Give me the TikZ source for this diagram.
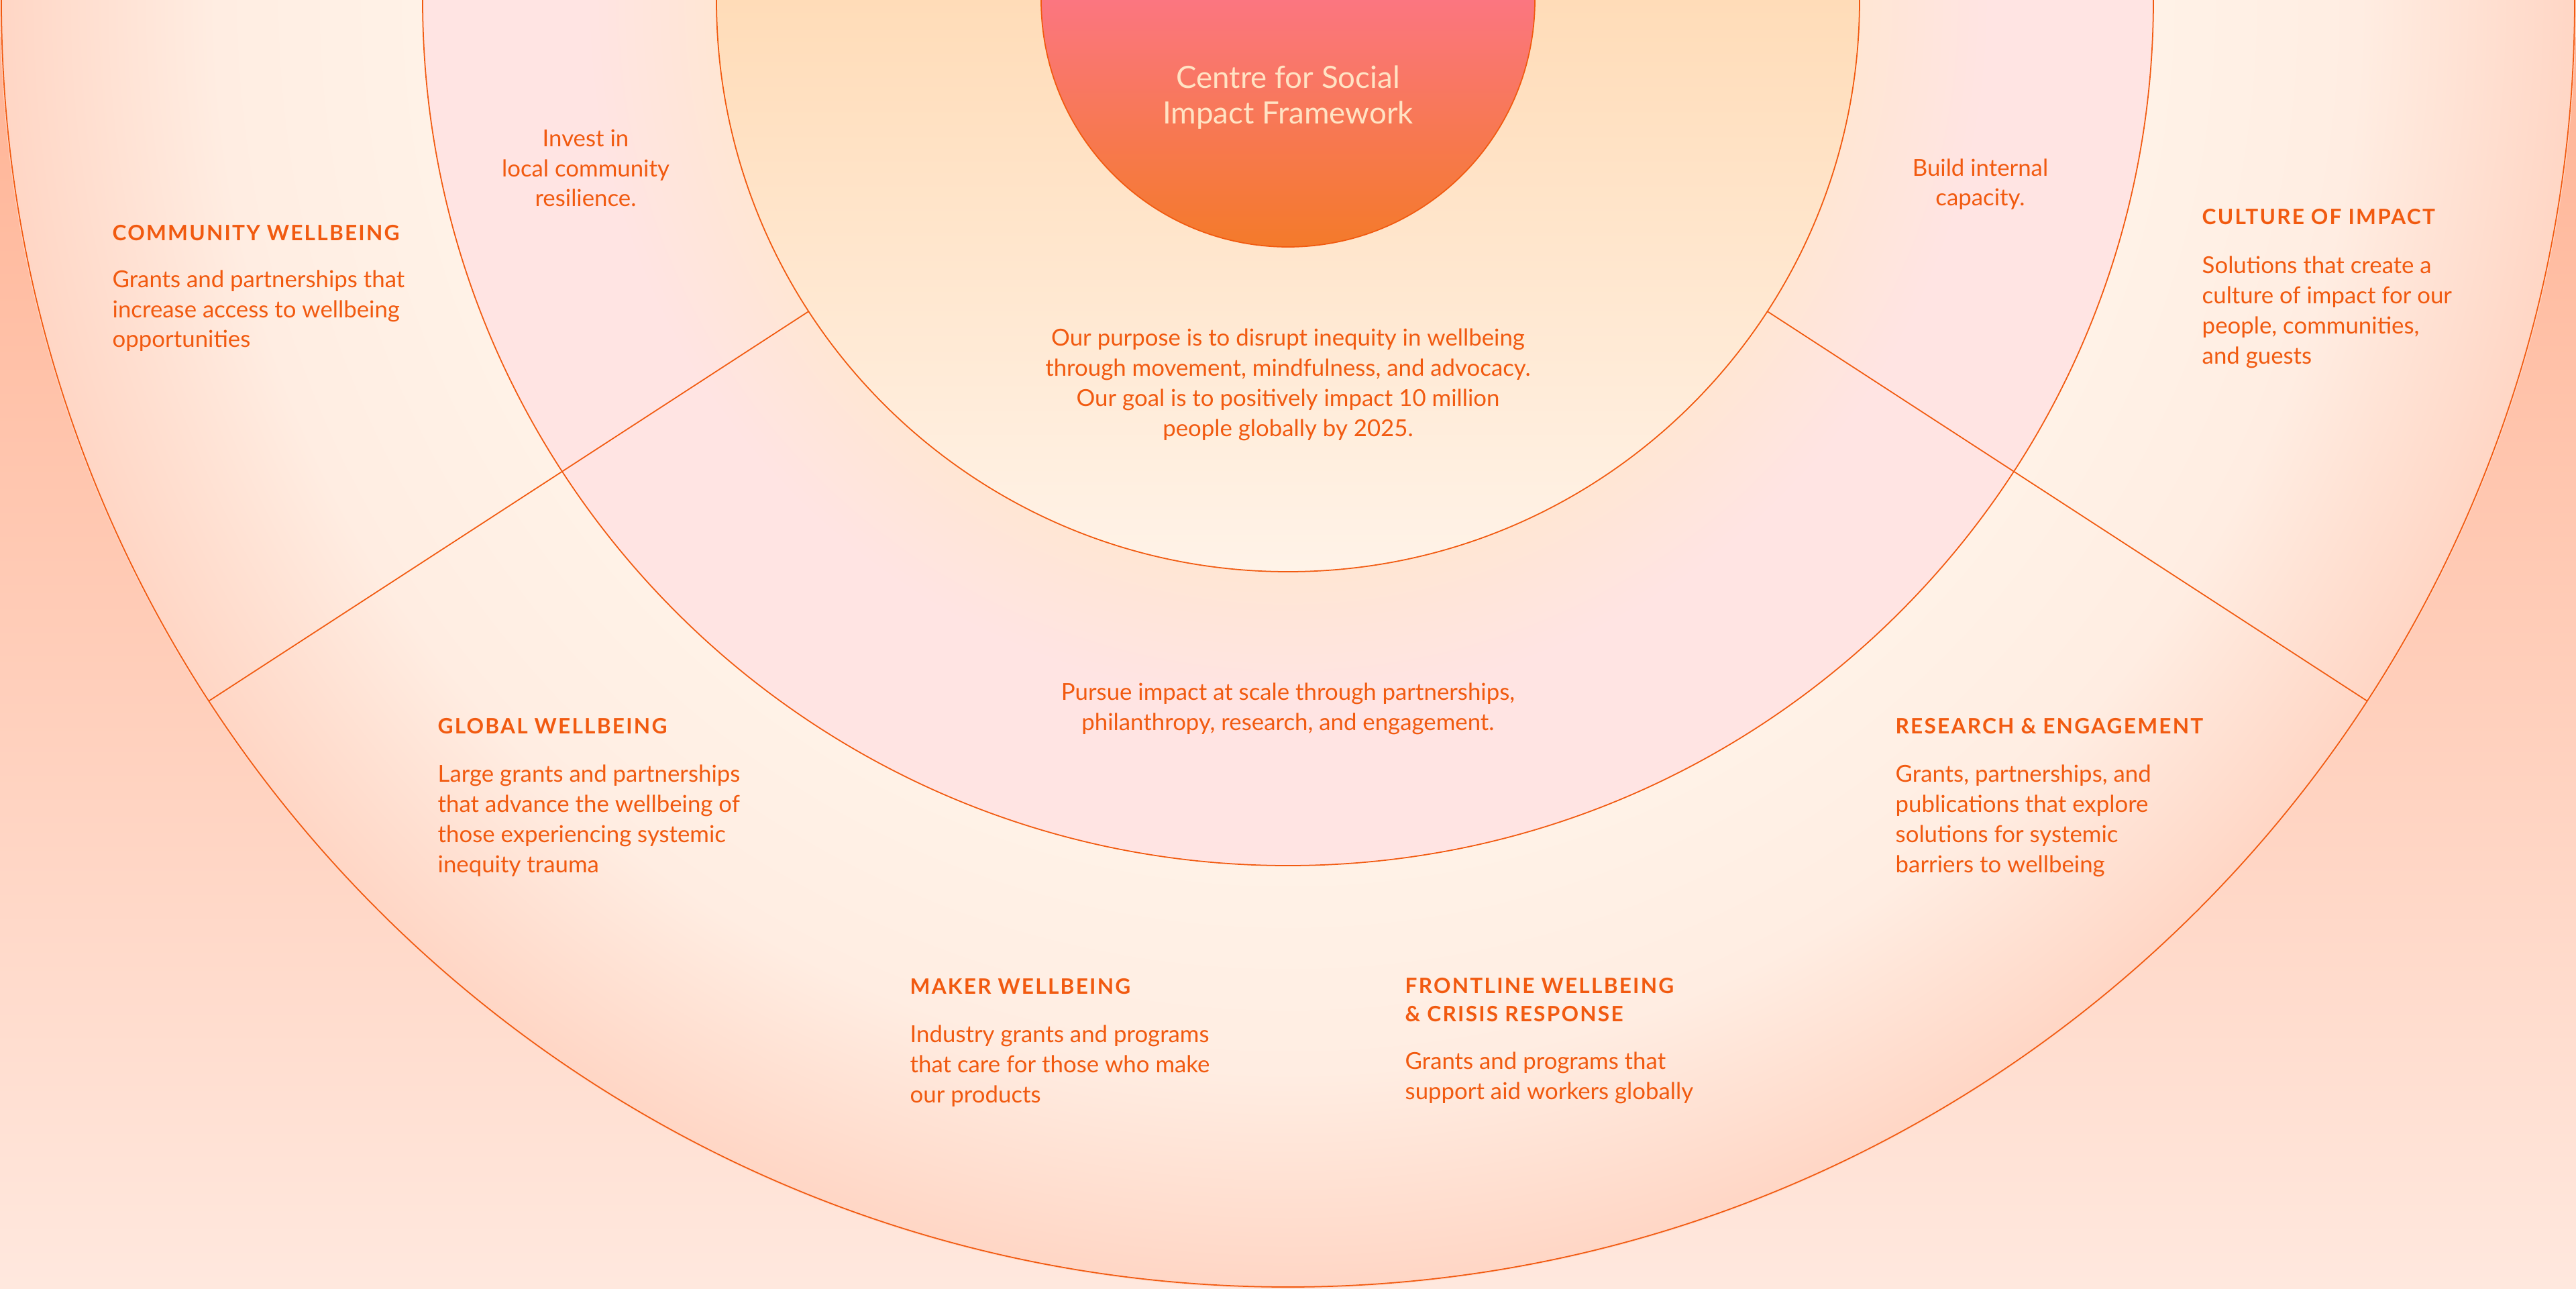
\documentclass[tikz,border=0pt]{standalone}
\usepackage{fontspec}
\setmainfont{Lato}
\newfontfamily\headfont[LetterSpace=7]{Lato}
\usetikzlibrary{positioning}
\definecolor{flame}     {HTML}{F15A10}
\definecolor{titlecream}{HTML}{FFE3C4}
\definecolor{skytop}    {HTML}{FFB293}
\definecolor{skymid}    {HTML}{FFCDB8}
\definecolor{skylow}    {HTML}{FFE8DE}
\definecolor{cream}     {HTML}{FFF2E7}
\definecolor{creammid}  {HTML}{FFEDE2}
\definecolor{rimpeach}  {HTML}{FFD6C5}
\definecolor{ringpeach} {HTML}{FFE6D4}
\definecolor{ringpink}  {HTML}{FFE4E3}
\definecolor{coretop}   {HTML}{FFDCB8}
\definecolor{corelow}   {HTML}{FFF3E8}
\definecolor{hubtop}    {HTML}{FB7680}
\definecolor{hublow}    {HTML}{F47A2A}
% 25bp = radius of the shaded circle
\pgfdeclareradialshading{outerring}{\pgfpoint{0bp}{0bp}}{color(0bp)=(cream); color(16.8bp)=(cream); color(20.8bp)=(creammid); color(25bp)=(rimpeach); color(50bp)=(rimpeach)}
\pgfdeclareradialshading{midring}{\pgfpoint{0bp}{0bp}}{color(0bp)=(ringpeach); color(16.5bp)=(ringpeach); color(20.3bp)=(ringpink); color(25bp)=(ringpink); color(50bp)=(ringpink)}

\begin{document}
\begin{tikzpicture}[
    rim/.style={draw=flame,line width=0.5pt},
    head/.style={font=\headfont\bfseries\fontsize{9}{11.7}\selectfont,text=flame,align=left,inner sep=0pt,anchor=base west},
    blurb/.style={font=\fontsize{9.9}{12.8}\selectfont,text=flame,align=left,inner sep=0pt,anchor=base west},
    motto/.style={font=\fontsize{9.9}{12.8}\selectfont,text=flame,align=center,inner sep=0pt,anchor=base}]
  \useasboundingbox (-19.2,-19.2) rectangle (19.2,0);
  \clip (-19.2,-19.2) rectangle (19.2,0);

  % backdrop and rings
  \shade[top color=skytop,middle color=skymid,bottom color=skylow] (-19.2,-19.2) rectangle (19.2,0);
  \shade[shading=outerring] (0,0) circle (19.2);
  \shade[shading=midring] (0,0) circle (12.9);
  \shade[top color=coretop,bottom color=corelow] (8.52,0) arc[start angle=0,end angle=-180,radius=8.52] -- cycle;
  \shade[top color=hubtop,bottom color=hublow] (3.68,0) arc[start angle=0,end angle=-180,radius=3.68] -- cycle;

  % outlines
  \foreach \r in {3.68,8.52,12.9,19.18} {
    \draw[rim] (0,0) circle (\r);
  }
  \foreach \a in {213,327} {
    \draw[rim] (\a:8.52) -- (\a:19.18);
  }

  % hub (multi-line nodes sit on their last baseline)
  \node[font=\fontsize{13}{15.1}\selectfont,text=titlecream,align=center,inner sep=0pt,anchor=base] (hub) at (0,-1.85) {Centre for Social\\Impact Framework};

  % inner disk and middle ring
  \node[motto] (invest) at (-10.47,-3.08) {Invest in\\local community\\resilience.};
  \node[motto] (build) at (10.32,-3.07) {Build internal\\capacity.};
  \node[motto] (purpose) at (0,-6.50) {Our purpose is to disrupt inequity in wellbeing\\through movement, mindfulness, and advocacy.\\Our goal is to positively impact 10 million\\people globally by 2025.};
  \node[motto] (pursue) at (0,-10.88) {Pursue impact at scale through partnerships,\\philanthropy, research, and engagement.};

  % outer ring
  \node[head] (community) at (-17.53,-3.58) {COMMUNITY WELLBEING};
  \node[blurb] (communitytxt) at (-17.53,-5.18) {Grants and partnerships that\\increase access to wellbeing\\opportunities};
  \node[head] (culture) at (13.62,-3.35) {CULTURE OF IMPACT};
  \node[blurb] (culturetxt) at (13.62,-5.42) {Solutions that create a\\culture of impact for our\\people, communities,\\and guests};
  \node[head] (global) at (-12.68,-10.93) {GLOBAL WELLBEING};
  \node[blurb] (globaltxt) at (-12.68,-13.00) {Large grants and partnerships\\that advance the wellbeing of\\those experiencing systemic\\inequity trauma};
  \node[head] (research) at (9.05,-10.93) {RESEARCH \& ENGAGEMENT};
  \node[blurb] (researchtxt) at (9.05,-13.00) {Grants, partnerships, and\\publications that explore\\solutions for systemic\\barriers to wellbeing};
  \node[head] (maker) at (-5.64,-14.81) {MAKER WELLBEING};
  \node[blurb] (makertxt) at (-5.64,-16.43) {Industry grants and programs\\that care for those who make\\our products};
  \node[head] (frontline) at (1.74,-15.22) {FRONTLINE WELLBEING\\\& CRISIS RESPONSE};
  \node[blurb] (frontlinetxt) at (1.74,-16.38) {Grants and programs that\\support aid workers globally};
\end{tikzpicture}
\end{document}
